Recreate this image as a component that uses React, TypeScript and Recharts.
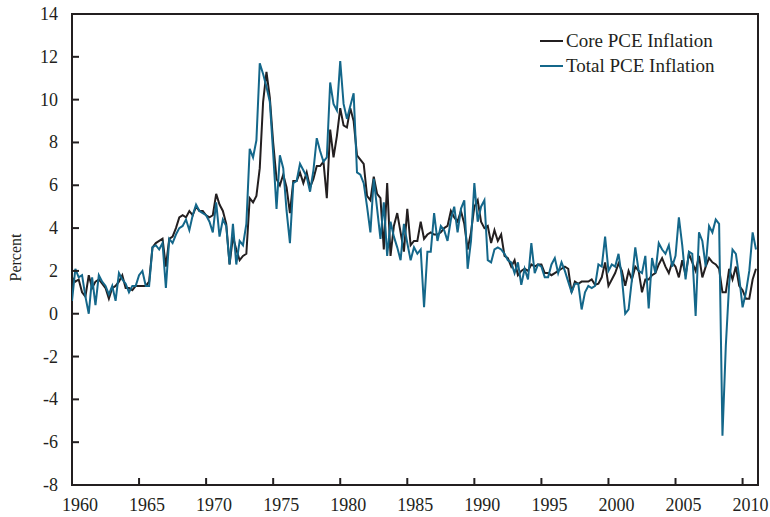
import React from 'react';
import { LineChart, Line, XAxis, YAxis, ReferenceArea, Legend } from 'recharts';

// quarterly inflation, annualized percent, 1960Q1 onward
const START_YEAR = 1960;

const core1960s = [
  1.7, 1.5, 1.6, 1.0, 0.8, 1.8, 1.2, 1.5, 1.6, 1.4,
  1.2, 0.7, 1.2, 1.3, 1.5, 1.8, 1.2, 1.2, 1.1, 1.3,
  1.3, 1.3, 1.3, 1.5, 3.1, 3.3, 3.4, 3.5, 2.2, 3.5,
  3.6, 4.0, 4.5, 4.6, 4.5, 4.8, 4.6, 5.0, 4.8, 4.8,
];
const core1970s = [
  4.6, 4.5, 4.6, 5.6, 5.1, 4.8, 4.2, 2.3, 3.6, 3.0,
  2.5, 2.7, 2.8, 5.4, 5.2, 5.5, 6.8, 9.9, 11.3, 10.1,
  8.0, 6.3, 6.0, 6.5, 5.9, 4.7, 6.2, 6.2, 6.6, 6.1,
  6.6, 5.9, 6.3, 6.9, 6.9, 7.1, 5.4, 8.6, 7.3, 8.3,
];
const core1980s = [
  9.6, 8.8, 8.7, 9.6, 9.0, 7.4, 7.2, 7.0, 5.5, 5.3,
  6.4, 5.6, 5.4, 3.0, 6.1, 2.7, 4.1, 4.7, 3.8, 2.9,
  4.9, 3.2, 3.4, 3.4, 4.3, 3.5, 3.7, 3.8, 3.7, 3.7,
  3.8, 4.0, 4.1, 4.8, 4.5, 4.3, 4.8, 4.2, 3.0, 3.8,
];
const core1990s = [
  5.0, 5.3, 4.3, 4.0, 4.1, 3.3, 3.9, 3.4, 3.7, 2.7,
  2.6, 2.2, 2.5, 1.8, 2.0, 2.1, 2.0, 2.3, 2.2, 2.3,
  2.3, 1.9, 1.9, 1.8, 1.9, 2.0, 2.1, 2.2, 2.1, 1.0,
  1.5, 1.4, 1.5, 1.5, 1.5, 1.6, 1.35, 1.4, 1.7, 2.4,
];
const core2000s = [
  1.3, 1.6, 1.9, 2.35, 2.0, 1.3, 2.0, 1.6, 2.2, 2.0,
  1.0, 1.6, 1.6, 1.8, 1.9, 2.3, 2.6, 2.2, 1.9, 2.4,
  2.2, 1.7, 2.5, 1.8, 2.8, 2.4, 2.0, 2.7, 1.7, 2.2,
  2.6, 2.4, 2.3, 2.1, 1.0, 1.0, 2.1, 1.6, 2.2, 1.3,
];
const core2010s = [1.1, 0.7, 0.7, 1.6, 2.1];

const total1960s = [
  0.6, 2.1, 1.7, 1.8, 0.8, 0.0, 1.7, 0.4, 1.8, 1.5,
  1.3, 0.9, 1.3, 0.6, 1.9, 1.6, 1.4, 1.0, 1.3, 1.3,
  1.8, 2.0, 1.3, 1.3, 3.1, 3.2, 3.0, 3.3, 1.2, 3.5,
  3.3, 3.7, 4.0, 4.1, 4.4, 3.9, 4.6, 5.1, 4.8, 4.7,
];
const total1970s = [
  4.6, 4.3, 3.8, 5.2, 3.6, 4.4, 4.1, 2.3, 4.2, 2.3,
  3.4, 3.2, 4.2, 7.7, 7.3, 8.1, 11.7, 11.2, 10.6, 9.9,
  7.5, 4.9, 7.4, 6.8, 4.8, 3.3, 6.1, 6.2, 7.0, 6.7,
  6.4, 5.7, 6.7, 8.2, 7.6, 7.1, 7.3, 10.8, 9.8, 9.5,
];
const total1980s = [
  11.8, 9.8, 9.1, 9.7, 10.3, 6.6, 6.5, 6.1, 5.0, 3.8,
  6.3, 4.9, 3.5, 5.2, 2.7, 4.3, 3.6, 3.1, 2.5, 4.2,
  3.3, 2.5, 3.1, 2.8, 3.0, 0.3, 2.9, 2.9, 4.7, 3.4,
  4.1, 3.9, 3.4, 4.4, 5.0, 3.8, 4.9, 5.3, 2.1, 3.4,
];
const total1990s = [
  6.1, 4.3, 5.0, 5.3, 2.5, 2.4, 3.0, 3.1, 3.0, 2.8,
  2.5, 2.4, 1.9, 2.4, 1.35, 2.1, 1.6, 3.3, 1.9, 2.3,
  2.2, 1.7, 1.7, 2.3, 2.6, 1.9, 2.4, 2.0, 1.5, 1.0,
  1.4, 1.4, 0.2, 1.0, 1.3, 1.2, 1.3, 2.3, 2.2, 3.6,
];
const total2000s = [
  2.0, 2.3, 2.2, 2.8, 1.7, 0.0, 0.2, 1.6, 3.1, 2.0,
  1.9, 2.7, 0.25, 2.6, 1.9, 3.3, 3.0, 2.8, 3.2, 2.2,
  2.7, 4.5, 3.2, 1.6, 2.9, 2.8, -0.1, 3.8, 3.4, 2.2,
  4.1, 3.8, 4.4, 4.2, -5.7, -1.5, 1.4, 3.0, 2.8, 1.7,
];
const total2010s = [0.3, 1.0, 2.0, 3.8, 3.0];

const core = [...core1960s, ...core1970s, ...core1980s, ...core1990s, ...core2000s, ...core2010s];
const total = [...total1960s, ...total1970s, ...total1980s, ...total1990s, ...total2000s, ...total2010s];

const data = core.map((c, i) => ({ date: START_YEAR + i / 4, core: c, total: total[i] }));

const xTicks = [1960, 1965, 1970, 1975, 1980, 1985, 1990, 1995, 2000, 2005, 2010];
const yTicks = [-8, -6, -4, -2, 0, 2, 4, 6, 8, 10, 12, 14];
const X_MAX = 2011.15;

const FONT = '"Liberation Serif", "Times New Roman", serif';
const INK = '#231f20';
const TEAL = '#14678a';

function YTick({ x, y, payload }: any) {
  return (
    <g>
      <line x1={x} x2={x + 7} y1={y} y2={y} stroke={INK} strokeWidth={2} />
      <text x={x - 14} y={y} dy={6} textAnchor="end" fontFamily={FONT} fontSize={18} fill={INK}>
        {payload.value}
      </text>
    </g>
  );
}

function XTick({ x, y, payload }: any) {
  return (
    <g>
      <line x1={x} x2={x} y1={y} y2={y - 7} stroke={INK} strokeWidth={2} />
      <text x={x + 8} y={y + 26} textAnchor="middle" fontFamily={FONT} fontSize={18} fill={INK}>
        {payload.value}
      </text>
    </g>
  );
}

function LegendBox({ payload }: any) {
  return (
    <div style={{ fontFamily: FONT, fontSize: 19, color: INK, lineHeight: '25px' }}>
      {(payload || []).map((p: any) => (
        <div key={p.value} style={{ display: 'flex', alignItems: 'center' }}>
          <span style={{ display: 'inline-block', width: 23, height: 2, background: p.color, marginRight: 3 }} />
          {p.value}
        </div>
      ))}
    </div>
  );
}

export default function App() {
  return (
    <div style={{ position: 'absolute', left: 0, top: 0, background: '#fff' }}>
      <LineChart width={770} height={517} data={data} margin={{ top: 14, right: 12, bottom: 0, left: 0 }}>
        <XAxis
          dataKey="date"
          type="number"
          domain={[START_YEAR, X_MAX]}
          ticks={xTicks}
          interval={0}
          height={32}
          tickSize={0}
          tickMargin={0}
          axisLine={false}
          tickLine={false}
          tick={<XTick />}
          allowDataOverflow
        />
        <YAxis
          type="number"
          domain={[-8, 14]}
          ticks={yTicks}
          interval={0}
          width={72}
          tickSize={0}
          tickMargin={0}
          axisLine={false}
          tickLine={false}
          tick={<YTick />}
          label={({ viewBox }: any) => {
            const cx = 21;
            const cy = viewBox.y + viewBox.height / 2 + 8;
            return (
              <text x={cx} y={cy} transform={`rotate(-90, ${cx}, ${cy})`} textAnchor="middle" fontFamily={FONT} fontSize={16} fill={INK}>
                Percent
              </text>
            );
          }}
        />
        <ReferenceArea x1={START_YEAR} x2={X_MAX} y1={-8} y2={14} fill="none" stroke={INK} strokeWidth={2} strokeOpacity={1} />
        <Line type="linear" dataKey="core" name="Core PCE Inflation" stroke={INK} strokeWidth={2} dot={false} isAnimationActive={false} />
        <Line type="linear" dataKey="total" name="Total PCE Inflation" stroke={TEAL} strokeWidth={2} dot={false} isAnimationActive={false} />
        <Legend
          layout="horizontal"
          verticalAlign="middle"
          align="center"
          wrapperStyle={{ top: 28, left: 540, width: 200, height: 50 }}
          content={<LegendBox />}
        />
      </LineChart>
    </div>
  );
}
